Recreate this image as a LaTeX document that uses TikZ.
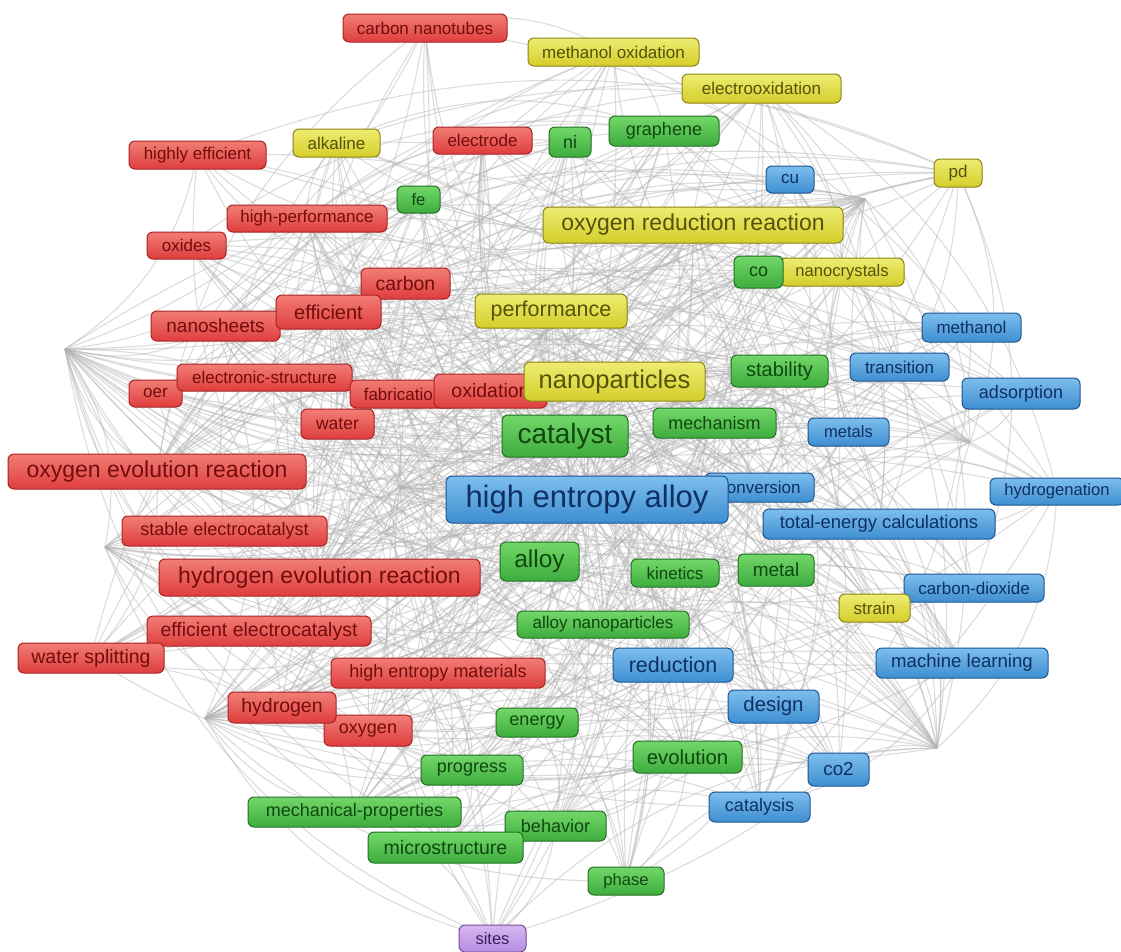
\documentclass[tikz,border=0pt]{standalone}
\usepackage{fontspec}
\setmainfont{Liberation Sans}
\usetikzlibrary{backgrounds}
\definecolor{rT}{RGB}{242,125,118}\definecolor{rB}{RGB}{222,62,62}\definecolor{rD}{RGB}{170,35,35}\definecolor{rX}{RGB}{115,12,12}
\definecolor{yT}{RGB}{238,236,115}\definecolor{yB}{RGB}{212,206,42}\definecolor{yD}{RGB}{140,132,20}\definecolor{yX}{RGB}{85,82,10}
\definecolor{gT}{RGB}{115,215,105}\definecolor{gB}{RGB}{62,172,62}\definecolor{gD}{RGB}{35,112,35}\definecolor{gX}{RGB}{15,72,15}
\definecolor{bT}{RGB}{125,190,238}\definecolor{bB}{RGB}{62,142,208}\definecolor{bD}{RGB}{30,85,145}\definecolor{bX}{RGB}{14,48,98}
\definecolor{pT}{RGB}{215,182,242}\definecolor{pB}{RGB}{182,142,226}\definecolor{pD}{RGB}{115,75,155}\definecolor{pX}{RGB}{60,30,95}
\tikzset{
  kwbox/.style={rounded corners=6pt, inner sep=0pt, line width=1pt, anchor=center},
  fs/.style={font=\fontsize{#1}{#1}\selectfont},
  rn/.style={kwbox, top color=rT, bottom color=rB, draw=rD, text=rX},
  yn/.style={kwbox, top color=yT, bottom color=yB, draw=yD, text=yX},
  gn/.style={kwbox, top color=gT, bottom color=gB, draw=gD, text=gX},
  bn/.style={kwbox, top color=bT, bottom color=bB, draw=bD, text=bX},
  pn/.style={kwbox, top color=pT, bottom color=pB, draw=pD, text=pX},
  edge/.style={draw=gray!60, draw opacity=0.45, line width=1.1pt},
}
\begin{document}
\begin{tikzpicture}[x=1pt,y=-1pt]
\useasboundingbox (0,0) rectangle (1121,951);
% hidden hub points
\coordinate (hL) at (65,349);
\coordinate (hC) at (400,487);
\coordinate (hR) at (865,199);
\coordinate (hBR) at (937,748);
\coordinate (hBL) at (205,718);
\coordinate (hLL) at (105,547);
\coordinate (hRR) at (970,442);
% red
\node[rn, minimum width=164, minimum height=28, fs=17] (cnt) at (425,28) {carbon nanotubes};
\node[rn, minimum width=137, minimum height=28, fs=17] (hef) at (197.5,155) {highly efficient};
\node[rn, minimum width=99, minimum height=27, fs=17] (elec) at (482.5,140.5) {electrode};
\node[rn, minimum width=160, minimum height=27, fs=17] (hp) at (307,218.5) {high-performance};
\node[rn, minimum width=79, minimum height=27, fs=17] (oxi) at (186.5,245.5) {oxides};
\node[rn, minimum width=89, minimum height=31, fs=19.5] (carb) at (405.5,283.5) {carbon};
\node[rn, minimum width=129, minimum height=30, fs=19] (nsh) at (215.5,326) {nanosheets};
\node[rn, minimum width=105, minimum height=34, fs=20] (eff) at (328.5,312) {efficient};
\node[rn, minimum width=53, minimum height=27, fs=17] (oer) at (155.5,393.5) {oer};
\node[rn, minimum width=175, minimum height=27, fs=17] (es) at (264.5,377.5) {electronic-structure};
\node[rn, minimum width=106, minimum height=28, fs=17] (fab) at (403,394) {fabrication};
\node[rn, minimum width=113, minimum height=34, fs=19.5] (oxd) at (490.5,391) {oxidation};
\node[rn, minimum width=73, minimum height=30, fs=17.5] (wat) at (337.5,424) {water};
\node[rn, minimum width=298, minimum height=35, fs=23] (oevr) at (157,471.5) {oxygen evolution reaction};
\node[rn, minimum width=205, minimum height=30, fs=18] (sec) at (224.5,531) {stable electrocatalyst};
\node[rn, minimum width=321, minimum height=37, fs=23] (herr) at (319.5,577.5) {hydrogen evolution reaction};
\node[rn, minimum width=224, minimum height=30, fs=19.5] (eec) at (259,631) {efficient electrocatalyst};
\node[rn, minimum width=146, minimum height=30, fs=19.5] (ws) at (91,658) {water splitting};
\node[rn, minimum width=214, minimum height=30, fs=18] (hem) at (438,673) {high entropy materials};
\node[rn, minimum width=88, minimum height=31, fs=18] (oxy) at (368,730.5) {oxygen};
\node[rn, minimum width=108, minimum height=31, fs=19.5] (hyd) at (282,707.5) {hydrogen};
% yellow
\node[yn, minimum width=171, minimum height=28, fs=17] (mox) at (613.5,52) {methanol oxidation};
\node[yn, minimum width=159, minimum height=29, fs=17] (eox) at (761.5,88.5) {electrooxidation};
\node[yn, minimum width=87, minimum height=28, fs=17] (alk) at (336.5,143) {alkaline};
\node[yn, minimum width=48, minimum height=28, fs=17] (pd) at (958,173) {pd};
\node[yn, minimum width=300, minimum height=36, fs=23] (orr) at (693,225) {oxygen reduction reaction};
\node[yn, minimum width=124, minimum height=28, fs=16.6] (ncr) at (842,272) {nanocrystals};
\node[yn, minimum width=152, minimum height=34, fs=21.5] (perf) at (551,311) {performance};
\node[yn, minimum width=181, minimum height=39, fs=25.5] (np) at (614.5,381.5) {nanoparticles};
% green
\node[gn, minimum width=42, minimum height=30, fs=18] (ni) at (570,142) {ni};
\node[gn, minimum width=110, minimum height=30, fs=18] (gra) at (664,131) {graphene};
\node[gn, minimum width=43, minimum height=27, fs=16.5] (fe) at (418.5,199.5) {fe};
\node[gn, minimum width=49, minimum height=32, fs=18] (co) at (758.5,272) {co};
\node[gn, minimum width=97, minimum height=32, fs=20] (stab) at (779.5,371) {stability};
\node[gn, minimum width=126, minimum height=42, fs=28] (cat) at (565,436) {catalyst};
\node[gn, minimum width=123, minimum height=30, fs=18] (mech) at (714.5,423) {mechanism};
\node[gn, minimum width=79, minimum height=39, fs=24.5] (alloy) at (539.5,561.5) {alloy};
\node[gn, minimum width=88, minimum height=28, fs=17] (kin) at (675,573) {kinetics};
\node[gn, minimum width=76, minimum height=32, fs=19] (met) at (776,570) {metal};
\node[gn, minimum width=172, minimum height=27, fs=17] (anp) at (603,624.5) {alloy nanoparticles};
\node[gn, minimum width=82, minimum height=29, fs=18] (ene) at (537,722.5) {energy};
\node[gn, minimum width=109, minimum height=32, fs=20.3] (evo) at (687.5,757) {evolution};
\node[gn, minimum width=102, minimum height=30, fs=18] (prog) at (472,770) {progress};
\node[gn, minimum width=213, minimum height=30, fs=18] (mp) at (354.5,812) {mechanical-properties};
\node[gn, minimum width=101, minimum height=30, fs=18] (beh) at (555.5,826) {behavior};
\node[gn, minimum width=155, minimum height=31, fs=19.5] (mic) at (445.5,847.5) {microstructure};
\node[gn, minimum width=76, minimum height=28, fs=16.6] (pha) at (626,881) {phase};
% blue
\node[bn, minimum width=48, minimum height=27, fs=17] (cu) at (790,179.5) {cu};
\node[bn, minimum width=99, minimum height=29, fs=17] (meth) at (971.5,327.5) {methanol};
\node[bn, minimum width=99, minimum height=28, fs=17] (tra) at (899.5,367) {transition};
\node[bn, minimum width=118, minimum height=31, fs=18] (ads) at (1021,393.5) {adsorption};
\node[bn, minimum width=81, minimum height=28, fs=16.5] (mets) at (848.5,432) {metals};
\node[bn, minimum width=109, minimum height=29, fs=17] (conv) at (759.5,487.5) {conversion};
\node[bn, minimum width=282, minimum height=47, fs=31] (hea) at (587,499.5) {high entropy alloy};
\node[bn, minimum width=134, minimum height=27, fs=16.6] (hydn) at (1057,491.5) {hydrogenation};
\node[bn, minimum width=232, minimum height=30, fs=18.4] (tec) at (879,524) {total-energy calculations};
\node[bn, minimum width=140, minimum height=28, fs=17] (cdo) at (974,588) {carbon-dioxide};
\node[yn, minimum width=71, minimum height=28, fs=17] (str) at (874.5,608) {strain};
\node[bn, minimum width=120, minimum height=34, fs=21.5] (red) at (673,665) {reduction};
\node[bn, minimum width=172, minimum height=30, fs=18.6] (ml) at (962,663) {machine learning};
\node[bn, minimum width=91, minimum height=33, fs=20.4] (des) at (773.5,706.5) {design};
\node[bn, minimum width=61, minimum height=33, fs=18.8] (co2) at (838.5,769.5) {co2};
\node[bn, minimum width=101, minimum height=30, fs=18] (cts) at (759.5,807) {catalysis};
% purple
\node[pn, minimum width=67, minimum height=27, fs=16.5] (sites) at (492.5,938.5) {sites};
% connectors
\def\nl{hea/1.5,cat/1.1,np/1.0,alloy/1.0,oevr/0.95,herr/0.95,orr/0.9,perf/0.8,eff/0.8,carb/0.7,oxd/0.75,red/0.7,des/0.6,evo/0.65,stab/0.6,mech/0.55,cnt/0.4,hef/0.4,elec/0.45,hp/0.45,oxi/0.4,nsh/0.5,oer/0.4,es/0.45,fab/0.45,wat/0.45,sec/0.45,eec/0.5,ws/0.5,hem/0.45,hyd/0.5,oxy/0.45,mox/0.4,eox/0.45,alk/0.4,pd/0.4,ncr/0.4,str/0.35,ni/0.5,gra/0.45,fe/0.4,co/0.5,kin/0.4,met/0.5,anp/0.45,ene/0.45,prog/0.4,mp/0.45,beh/0.4,mic/0.5,pha/0.4,cu/0.4,meth/0.35,tra/0.4,ads/0.4,mets/0.4,conv/0.45,hydn/0.35,tec/0.45,cdo/0.35,ml/0.4,co2/0.45,cts/0.45,sites/0.35,hL/0.9,hC/1.0,hR/0.9,hBR/0.8,hBL/0.8,hLL/0.7,hRR/0.5}
\pgfmathsetseed{7}
\begin{pgfonlayer}{background}
\fill[white] (0,0) rectangle (1121,951);
\foreach \a/\wa [count=\i] in \nl {
  \foreach \b/\wb [count=\j] in \nl {
    \ifnum\j>\i
      \pgfmathtruncatemacro\ok{rnd<(\wa*\wb*0.95)}
      \ifnum\ok=1
        \draw[edge] (\a.center) to[bend left=22] (\b.center);
      \fi
    \fi
  }
}
\end{pgfonlayer}
\end{tikzpicture}
\end{document}
